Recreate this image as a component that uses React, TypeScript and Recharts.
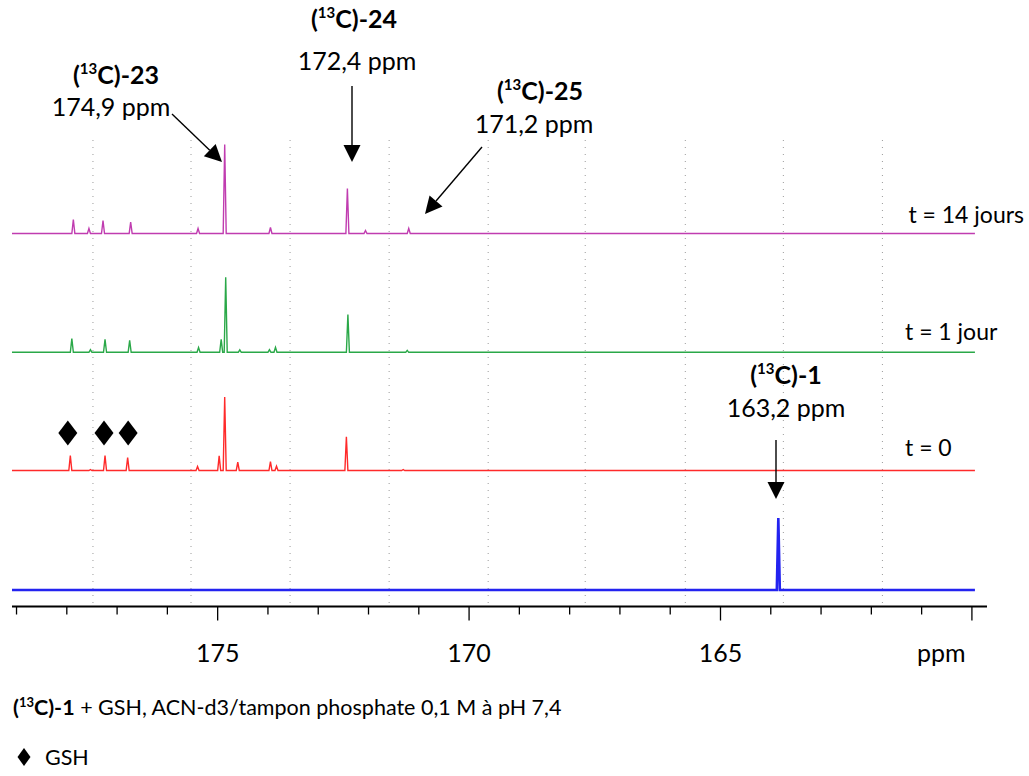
import React from 'react';
import { ComposedChart, Line, XAxis, YAxis, ReferenceLine } from 'recharts';

// ---- data ----
const ppmTicks = [179, 178, 177, 176, 175, 174, 173, 172, 171, 170, 169, 168, 167, 166, 165, 164, 163, 162, 161, 160];
const majorTicks = [175, 170, 165, 160];
const labelledTicks = [175, 170, 165];
const gridPpm = [177.48, 175.53, 173.56, 171.59, 169.62, 167.69, 165.7, 163.75, 161.78];

const magentaPpm = [177.87, 177.56, 177.28, 176.73, 175.39, 174.86, 173.95, 172.42, 172.06, 171.2];
const magentaHeight = [14, 5, 13, 11.5, 5, 89, 6, 45, 3, 5];

const greenPpm = [177.9, 177.53, 177.24, 176.75, 175.38, 174.93, 174.84, 174.56, 173.97, 173.85, 172.41, 171.23];
const greenHeight = [13.7, 2.7, 13, 12, 4.7, 13, 75, 2.5, 2.7, 5, 37.7, 2];

const redPpm = [177.93, 177.53, 177.24, 176.79, 175.4, 174.97, 174.86, 174.6, 173.95, 173.83, 172.44, 171.31];
const redHeight = [15, 1, 15, 13, 4, 14.6, 73.6, 8.3, 9, 4.3, 33.6, 1];

const bluePpm = [163.85];
const blueHeight = [72];

const gshPpm = [177.98, 177.26, 176.78];

// ---- layout ----
const W = 1029;
const H = 776;
const LEFT = 12;
const RIGHT = 987;
const TOP = 6.5;
const BOTTOM = 606.5;
const X_MIN = 159.7;
const X_MAX = 179.09;
const SPEC_START = 179.09;
const SPEC_END = 159.94;
const HALF = 0.03;
const FONT = 'Lato, "Open Sans", sans-serif';

const offsets = { magenta: 373, green: 254.2, red: 136, blue: 16.5 };

function buildTrace(ppms: number[], heights: number[], offset: number) {
  const peaks = ppms.map((p, i) => ({ p, h: heights[i] })).sort((a, b) => b.p - a.p);
  const pts: { x: number; y: number }[] = [{ x: SPEC_START, y: offset }];
  peaks.forEach(({ p, h }) => {
    pts.push({ x: p + HALF, y: offset });
    pts.push({ x: p, y: offset + h });
    pts.push({ x: p - HALF, y: offset });
  });
  pts.push({ x: SPEC_END, y: offset });
  return pts;
}

const magentaData = buildTrace(magentaPpm, magentaHeight, offsets.magenta);
const greenData = buildTrace(greenPpm, greenHeight, offsets.green);
const redData = buildTrace(redPpm, redHeight, offsets.red);
const blueData = buildTrace(bluePpm, blueHeight, offsets.blue);

const pxOf = (ppm: number) => LEFT + ((X_MAX - ppm) / (X_MAX - X_MIN)) * (RIGHT - LEFT);

const AxisTick = (props: any) => {
  const { x, y, payload } = props;
  const v = payload.value;
  const major = majorTicks.includes(v);
  return (
    <g>
      <line x1={x} y1={y} x2={x} y2={y + (major ? 14 : 8)} stroke="#000" strokeWidth={1.3} />
      {labelledTicks.includes(v) && (
        <text x={x} y={y + 55} textAnchor="middle" fontFamily={FONT} fontSize={25} fill="#000">
          {v}
        </text>
      )}
    </g>
  );
};

const Label13 = ({ x, y, tail }: { x: number; y: number; tail: string }) => (
  <text x={x} y={y} textAnchor="middle" fontFamily={FONT} fontSize={25} fontWeight={700} fill="#000">
    (<tspan fontSize={15} dy={-10}>13</tspan>
    <tspan dy={10}>C)-{tail}</tspan>
  </text>
);

const Arrow = ({ x1, y1, x2, y2 }: { x1: number; y1: number; x2: number; y2: number }) => {
  const ang = Math.atan2(y2 - y1, x2 - x1);
  const len = 17;
  const half = 8.5;
  const bx = x2 - len * Math.cos(ang);
  const by = y2 - len * Math.sin(ang);
  const nx = -Math.sin(ang);
  const ny = Math.cos(ang);
  return (
    <g>
      <line x1={x1} y1={y1} x2={bx} y2={by} stroke="#000" strokeWidth={1.4} />
      <polygon
        points={`${x2},${y2} ${bx + nx * half},${by + ny * half} ${bx - nx * half},${by - ny * half}`}
        fill="#000"
      />
    </g>
  );
};

const Diamond = ({ cx, cy, w = 9.5, h = 12.5 }: { cx: number; cy: number; w?: number; h?: number }) => (
  <polygon points={`${cx},${cy - h} ${cx + w},${cy} ${cx},${cy + h} ${cx - w},${cy}`} fill="#000" />
);

export default function App() {
  return (
    <div style={{ position: 'absolute', left: 0, top: 0, width: W, height: H, background: '#fff' }}>
      <ComposedChart
        width={W}
        height={H}
        margin={{ top: TOP, right: W - RIGHT, left: LEFT, bottom: H - BOTTOM - 60 }}
      >
        <XAxis
          dataKey="x"
          type="number"
          domain={[X_MIN, X_MAX]}
          reversed
          allowDataOverflow
          ticks={ppmTicks}
          interval={0}
          height={60}
          tickLine={false}
          tickSize={0}
          tickMargin={0}
          tick={<AxisTick />}
          axisLine={{ stroke: '#000', strokeWidth: 1.8 }}
        />
        <YAxis type="number" domain={[0, BOTTOM - TOP]} hide allowDataOverflow />
        {gridPpm.map((g) => (
          <ReferenceLine
            key={g}
            segment={[
              { x: g, y: 3.5 },
              { x: g, y: 468.5 },
            ]}
            stroke="#9a9a9a"
            strokeWidth={1}
            strokeDasharray="1 6"
          />
        ))}
        <Line data={blueData} dataKey="y" type="linear" dot={false} stroke="#2323f0" strokeWidth={2.6} isAnimationActive={false} />
        <Line data={redData} dataKey="y" type="linear" dot={false} stroke="#ff2a2a" strokeWidth={1.4} isAnimationActive={false} />
        <Line data={greenData} dataKey="y" type="linear" dot={false} stroke="#2aa848" strokeWidth={1.4} isAnimationActive={false} />
        <Line data={magentaData} dataKey="y" type="linear" dot={false} stroke="#c03cb0" strokeWidth={1.4} isAnimationActive={false} />
      </ComposedChart>

      <svg width={W} height={H} style={{ position: 'absolute', left: 0, top: 0, pointerEvents: 'none' }}>
        <Label13 x={116} y={84} tail="23" />
        <text x={111} y={116} textAnchor="middle" fontFamily={FONT} fontSize={25} fill="#000">174,9 ppm</text>
        <Label13 x={354} y={28} tail="24" />
        <text x={357} y={70} textAnchor="middle" fontFamily={FONT} fontSize={25} fill="#000">172,4 ppm</text>
        <Label13 x={540} y={100} tail="25" />
        <text x={534} y={133} textAnchor="middle" fontFamily={FONT} fontSize={25} fill="#000">171,2 ppm</text>
        <Label13 x={786} y={384} tail="1" />
        <text x={786} y={417} textAnchor="middle" fontFamily={FONT} fontSize={25} fill="#000">163,2 ppm</text>

        <Arrow x1={172} y1={114} x2={222} y2={162} />
        <Arrow x1={352} y1={86} x2={352} y2={162} />
        <Arrow x1={482} y1={147} x2={425} y2={214} />
        <Arrow x1={776} y1={440} x2={776} y2={499} />

        {gshPpm.map((p) => (
          <Diamond key={p} cx={pxOf(p)} cy={433} />
        ))}

        <text x={1024} y={223} textAnchor="end" fontFamily={FONT} fontSize={23} fill="#000">t = 14 jours</text>
        <text x={905} y={340} fontFamily={FONT} fontSize={23} fill="#000">t = 1 jour</text>
        <text x={905} y={456} fontFamily={FONT} fontSize={23} fill="#000">t = 0</text>
        <text x={917} y={662} fontFamily={FONT} fontSize={25} fill="#000">ppm</text>

        <text x={13} y={715} fontFamily={FONT} fontSize={21.5} fill="#000">
          <tspan fontWeight={700}>(</tspan>
          <tspan fontWeight={700} fontSize={13} dy={-8}>13</tspan>
          <tspan fontWeight={700} dy={8}>C)-1</tspan>
          <tspan> + GSH, ACN-d3/tampon phosphate 0,1 M à pH 7,4</tspan>
        </text>
        <Diamond cx={24} cy={757} w={6.5} h={9} />
        <text x={45} y={765} fontFamily={FONT} fontSize={21.5} fill="#000">GSH</text>
      </svg>
    </div>
  );
}
